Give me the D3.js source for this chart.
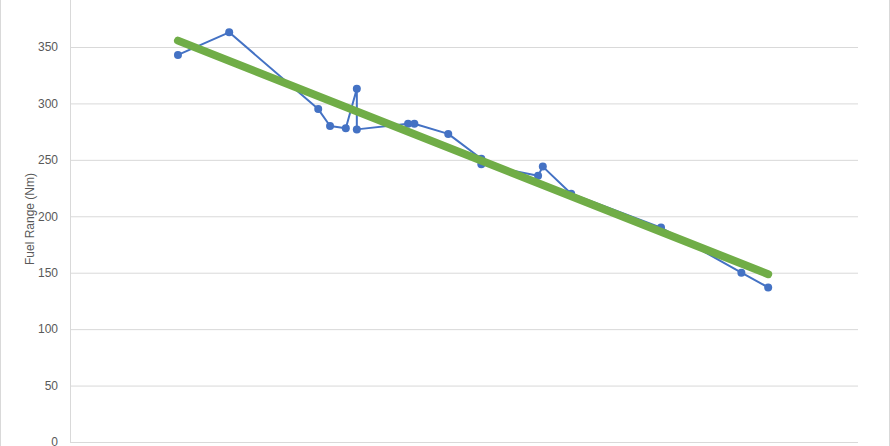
<!DOCTYPE html>
<html><head><meta charset="utf-8">
<script src="https://cdn.jsdelivr.net/npm/d3@7"></script>
<style>body{margin:0;background:#fff;overflow:hidden}svg{display:block}</style>
</head><body><svg id="c" width="890" height="446"></svg>
<script>
const xValues = [13.7,20.2,31.5,33.0,35.0,36.4,36.4,42.9,43.7,48.0,52.2,52.2,59.4,60.0,63.6,75.0,85.2,88.6];
const fuelRange = [343,363,295,280,278,313,277,282,282,273,251,246,236,244,220,190,150,137];
const yTicks = [0,50,100,150,200,250,300,350];
const yTitle = "Fuel Range (Nm)";

const svg = d3.select("#c");
const left = 70, right = 858, bottom = 442;
const x = d3.scaleLinear().domain([0,100]).range([left,right]);
const y = d3.scaleLinear().domain([0,400]).range([bottom, bottom - 400*1.1286]);

svg.append("rect").attr("x",0.5).attr("y",-5).attr("width",889).attr("height",460)
  .attr("fill","none").attr("stroke","#d9d9d9");

const grid = svg.append("g");
grid.selectAll("line").data(yTicks.filter(d=>d>0)).join("line")
  .attr("x1",left).attr("x2",right).attr("y1",d=>y(d)+0.5).attr("y2",d=>y(d)+0.5)
  .attr("stroke","#d9d9d9").attr("stroke-width",1);
svg.append("line").attr("x1",left).attr("x2",right).attr("y1",bottom+0.5).attr("y2",bottom+0.5).attr("stroke","#d9d9d9");
svg.append("line").attr("x1",left+0.5).attr("x2",left+0.5).attr("y1",-5).attr("y2",bottom+0.5).attr("stroke","#d9d9d9");

const axis = d3.axisLeft(y).tickValues(yTicks).tickSize(0).tickPadding(12);
const ag = svg.append("g").attr("transform",`translate(${left},0)`).call(axis);
ag.select(".domain").remove();
ag.selectAll("text").attr("fill","#595959").style("font-family","'Liberation Sans', Arial, sans-serif").style("font-size","12px");

svg.append("text").attr("transform",`translate(34,${219}) rotate(-90)`)
  .attr("text-anchor","middle").attr("fill","#595959")
  .style("font-family","'Liberation Sans', Arial, sans-serif").style("font-size","12px").text(yTitle);

const pts = xValues.map((v,i)=>[v,fuelRange[i]]);
svg.append("path").datum(pts).attr("fill","none").attr("stroke","#4472C4").attr("stroke-width",2)
  .attr("stroke-linejoin","round")
  .attr("d", d3.line().x(d=>x(d[0])).y(d=>y(d[1])));
svg.append("g").selectAll("circle").data(pts).join("circle")
  .attr("cx",d=>x(d[0])).attr("cy",d=>y(d[1])).attr("r",4).attr("fill","#4472C4");

// linear regression trend line
const mx = d3.mean(xValues), my = d3.mean(fuelRange);
let sxy=0, sxx=0;
pts.forEach(([a,b])=>{sxy+=(a-mx)*(b-my); sxx+=(a-mx)*(a-mx);});
const slope = sxy/sxx, icpt = my - slope*mx;
const x0 = d3.min(xValues), x1 = d3.max(xValues);
svg.append("line").attr("x1",x(x0)).attr("y1",y(icpt+slope*x0)).attr("x2",x(x1)).attr("y2",y(icpt+slope*x1))
  .attr("stroke","#70AD47").attr("stroke-width",8).attr("stroke-linecap","round");
</script></body></html>
